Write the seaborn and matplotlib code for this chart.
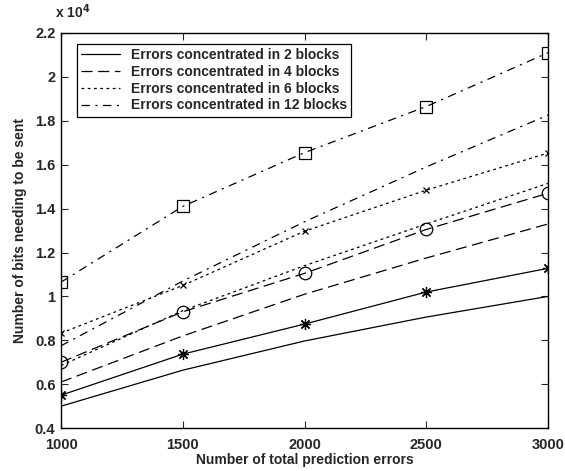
import matplotlib
matplotlib.use("Agg")
import matplotlib.pyplot as plt
import numpy as np
import pandas as pd
import seaborn as sns

# data (units of 1e4 bits)
errors = [1000, 1500, 2000, 2500, 3000]
blk2_plain = [0.50, 0.664, 0.797, 0.906, 1.00]
blk2_mark = [0.55, 0.737, 0.874, 1.02, 1.128]
blk4_plain = [0.61, 0.82, 1.01, 1.175, 1.33]
blk4_mark = [0.70, 0.93, 1.105, 1.305, 1.47]
blk6_plain = [0.685, 0.935, 1.14, 1.33, 1.515]
blk6_mark = [0.833, 1.05, 1.297, 1.484, 1.653]
blk12_plain = [0.775, 1.07, 1.34, 1.59, 1.826]
blk12_mark = [1.065, 1.41, 1.655, 1.865, 2.11]
labels = ["Errors concentrated in 2 blocks", "Errors concentrated in 4 blocks",
          "Errors concentrated in 6 blocks", "Errors concentrated in 12 blocks"]

sns.set_style("ticks")
plt.rcParams["font.family"] = ["Liberation Sans", "DejaVu Sans"]
plt.rcParams["font.weight"] = "bold"
plt.rcParams["lines.scale_dashes"] = False

fig = plt.figure(figsize=(5.65, 4.71), dpi=100)
ax = fig.add_axes([0.108, 0.091, 0.862, 0.839])

styles = ["-", (0, (8, 4)), (0, (2, 2.5)), (0, (6, 4, 1.5, 4))]
plains = [blk2_plain, blk4_plain, blk6_plain, blk12_plain]
marked = [blk2_mark, blk4_mark, blk6_mark, blk12_mark]
markers = [(8, 2, 0), "o", "x", "s"]
msizes = [8, 9, 5, 9]

for i in range(4):
    sns.lineplot(x=errors, y=plains[i], ax=ax, color="black", linestyle=styles[i],
                 linewidth=0.9, label=labels[i])
    sns.lineplot(x=errors, y=marked[i], ax=ax, color="black", linestyle=styles[i],
                 linewidth=0.9, marker=markers[i], markersize=msizes[i],
                 markerfacecolor="none", markeredgecolor="black",
                 markeredgewidth=0.9)

ax.set_xlim(1000, 3000)
ax.set_ylim(0.4, 2.2)
ax.set_xticks(errors)
ax.set_yticks(np.round(np.arange(0.4, 2.21, 0.2), 1))
ax.set_yticklabels(["0.4", "0.6", "0.8", "1", "1.2", "1.4", "1.6", "1.8", "2", "2.2"])
ax.tick_params(direction="in", top=True, right=True, length=5, width=0.8,
               labelsize=10.5)
ax.tick_params(axis="x", pad=7)
ax.tick_params(axis="y", pad=4)
for s in ax.spines.values():
    s.set_visible(True)
    s.set_color("black")
    s.set_linewidth(1.0)
ax.set_xlabel("Number of total prediction errors", fontsize=10, fontweight="bold",
              labelpad=1)
ax.set_ylabel("Number of bits needing to be sent", fontsize=10, fontweight="bold",
              labelpad=6)
fig.text(0.097, 0.955, r"x 10$^{4}$", fontsize=10, fontweight="bold",
         ha="left", va="bottom")

leg = ax.legend(loc="upper left", bbox_to_anchor=(0.018, 0.99), fontsize=10,
                frameon=True, fancybox=False, edgecolor="black",
                handlelength=2.8, borderpad=0.3, labelspacing=0.2,
                handletextpad=0.8)
leg.get_frame().set_linewidth(0.9)
leg.get_frame().set_alpha(1)

fig.savefig("out.png", dpi=100)
